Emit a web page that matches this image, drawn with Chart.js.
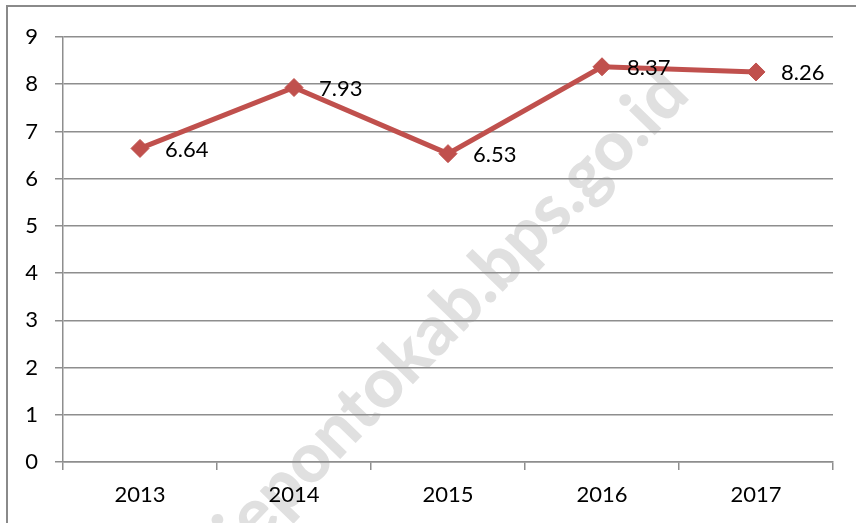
<!DOCTYPE html>
<html lang="id">
<head>
<meta charset="UTF-8">
<title>Grafik</title>
<script src="https://cdn.jsdelivr.net/npm/chart.js"></script>
<style>
  html, body { margin: 0; padding: 0; background: #fff; }
  #wrap { width: 856px; height: 523px; position: relative; }
</style>
</head>
<body>
<div id="wrap"><canvas id="myChart"></canvas></div>
<script>
// data
const years = ['2013', '2014', '2015', '2016', '2017'];
const values = [6.64, 7.93, 6.53, 8.37, 8.26];
const yTicks = [0, 1, 2, 3, 4, 5, 6, 7, 8, 9];
const watermarkText = 'jepontokab.bps.go.id';

const gridGray = '#8e8e8e';
const lineRed = '#C0504D';
const fontFamily = 'Lato, "Open Sans", sans-serif';

// frame around the whole chart + watermark behind everything
const background = {
  id: 'background',
  beforeDraw(chart) {
    const ctx = chart.ctx;
    ctx.save();
    ctx.fillStyle = '#fff';
    ctx.fillRect(0, 0, chart.width, chart.height);
    ctx.strokeStyle = '#8a8a8a';
    ctx.lineWidth = 2;
    ctx.strokeRect(7, 6, 900, 700);

    ctx.translate(452, 312);
    ctx.rotate(-0.8);
    ctx.font = '900 69px ' + fontFamily;
    ctx.fillStyle = '#e0e0e0';
    ctx.textAlign = 'center';
    ctx.textBaseline = 'middle';
    ctx.fillText(watermarkText, 0, 0);
    ctx.restore();
  }
};

// value labels to the right of each marker
const valueLabels = {
  id: 'valueLabels',
  afterDatasetsDraw(chart) {
    const ctx = chart.ctx;
    const meta = chart.getDatasetMeta(0);
    ctx.save();
    ctx.font = '22px ' + fontFamily;
    ctx.fillStyle = '#000';
    ctx.textAlign = 'left';
    ctx.textBaseline = 'middle';
    meta.data.forEach((pt, i) => {
      ctx.fillText(values[i].toFixed(2), pt.x + 25, pt.y + 1);
    });
    ctx.restore();
  }
};

const ctx = document.getElementById('myChart').getContext('2d');
new Chart(ctx, {
  type: 'line',
  data: {
    labels: years,
    datasets: [{
      data: values,
      borderColor: lineRed,
      backgroundColor: lineRed,
      borderWidth: 5,
      pointStyle: 'rectRot',
      pointRadius: 9,
      pointHoverRadius: 9,
      pointBackgroundColor: lineRed,
      pointBorderColor: lineRed,
      pointBorderWidth: 1,
      tension: 0
    }]
  },
  options: {
    responsive: true,
    maintainAspectRatio: false,
    animation: false,
    events: [],
    layout: { padding: { top: 37, right: 23, left: 0, bottom: 0 } },
    plugins: {
      legend: { display: false },
      tooltip: { enabled: false }
    },
    scales: {
      x: {
        offset: true,
        grid: {
          offset: true,
          drawOnChartArea: false,
          drawTicks: true,
          tickLength: 8,
          color: gridGray,
          lineWidth: 1.5
        },
        border: { display: true, color: gridGray, width: 1.5 },
        ticks: {
          color: '#000',
          font: { family: fontFamily, size: 22 },
          padding: 12,
          maxRotation: 0
        },
        afterFit(scale) { scale.height = 61; }
      },
      y: {
        min: 0,
        max: 9,
        afterBuildTicks(scale) {
          scale.ticks = yTicks.map(v => ({ value: v }));
        },
        grid: {
          color: gridGray,
          lineWidth: 1.5,
          drawTicks: true,
          tickLength: 8
        },
        border: { display: true, color: gridGray, width: 1.5 },
        ticks: {
          color: '#000',
          font: { family: fontFamily, size: 22 },
          padding: 17
        },
        afterFit(scale) { scale.width = 63; }
      }
    }
  },
  plugins: [background, valueLabels]
});
</script>
</body>
</html>
